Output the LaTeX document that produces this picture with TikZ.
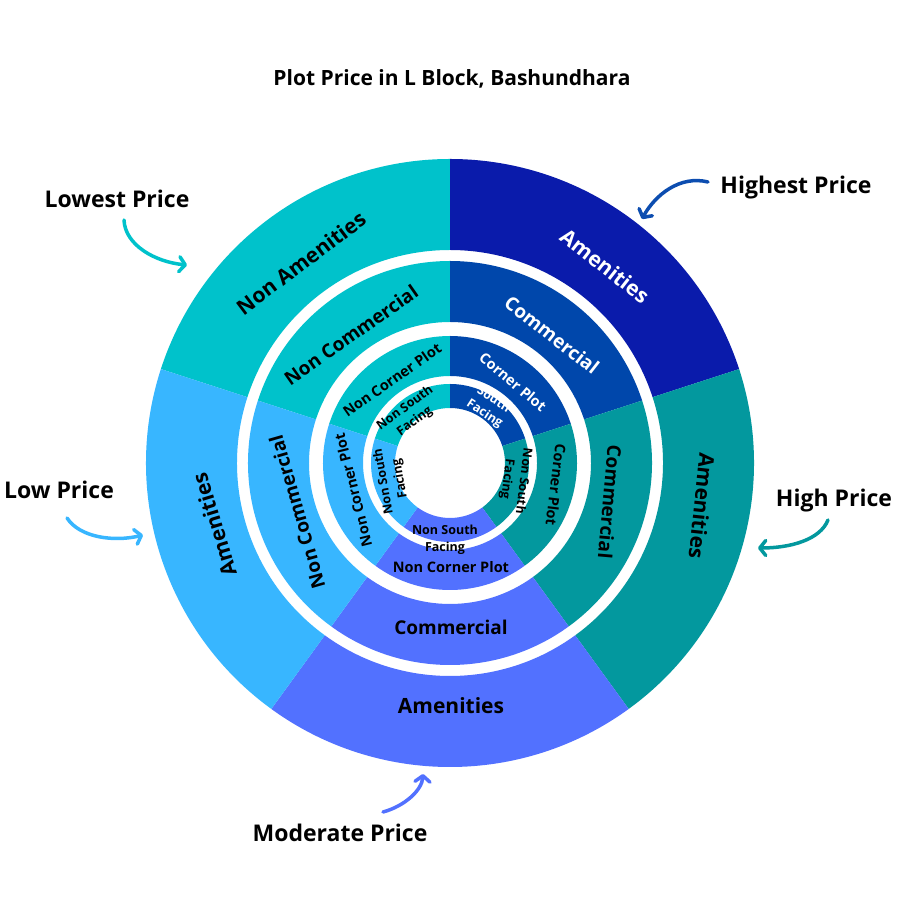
\documentclass[tikz,border=0pt]{standalone}
\usepackage{fontspec}
\setmainfont{Open Sans}
\usetikzlibrary{arrows.meta}
\definecolor{cyanc}{HTML}{00C2CB}
\definecolor{navyc}{HTML}{0A1BAB}
\definecolor{cobaltc}{HTML}{0047AB}
\definecolor{tealc}{HTML}{03989E}
\definecolor{periw}{HTML}{5271FF}
\definecolor{lightb}{HTML}{38B6FF}
\definecolor{arrowblue}{HTML}{0C4DB0}
\newcommand\ringsector[5]{\fill[#1] (#2:#5) arc[start angle=#2, end angle=#3, radius=#5] -- (#3:#4) arc[start angle=#3, end angle=#2, radius=#4] -- cycle;}
\begin{document}
\begin{tikzpicture}[x=1pt,y=1pt,
  ringa/.style={font=\bfseries\fontsize{21}{25}\selectfont, inner sep=0pt},
  ringb/.style={font=\bfseries\fontsize{19}{23}\selectfont, inner sep=0pt},
  ringc/.style={font=\bfseries\fontsize{14.5}{17}\selectfont, inner sep=0pt},
  ringd/.style={font=\bfseries\fontsize{12.5}{16.5}\selectfont, inner sep=0pt, align=center},
  callout/.style={font=\bfseries\fontsize{23}{27}\selectfont, inner sep=0pt, anchor=base},
  titlestyle/.style={font=\bfseries\fontsize{21}{25}\selectfont, inner sep=0pt, anchor=base},
  pointer/.style={line width=3.5pt, line cap=round, -{Straight Barb[length=6pt,width=15pt,round]}}]
\fill[white] (0,0) rectangle (900,900);
\begin{scope}[shift={(450,437)}]
  % ring 1
  \ringsector{cyanc}{90}{162}{213}{304}
  \ringsector{navyc}{18}{90}{213}{304}
  \ringsector{tealc}{-54}{18}{213}{304}
  \ringsector{periw}{-126}{-54}{213}{304}
  \ringsector{lightb}{162}{234}{213}{304}
  % ring 2
  \ringsector{cyanc}{90}{162}{141}{202}
  \ringsector{cobaltc}{18}{90}{141}{202}
  \ringsector{tealc}{-54}{18}{141}{202}
  \ringsector{periw}{-126}{-54}{141}{202}
  \ringsector{lightb}{162}{234}{141}{202}
  % ring 3
  \ringsector{cyanc}{90}{162}{87}{127}
  \ringsector{cobaltc}{18}{90}{87}{127}
  \ringsector{tealc}{-54}{18}{87}{127}
  \ringsector{periw}{-126}{-54}{87}{127}
  \ringsector{lightb}{162}{234}{87}{127}
  % ring 4
  \ringsector{cyanc}{90}{162}{55}{79}
  \ringsector{cobaltc}{18}{90}{55}{79}
  \ringsector{tealc}{-54}{18}{55}{79}
  \ringsector{periw}{-126}{-54}{55}{79}
  \ringsector{lightb}{162}{234}{55}{79}
\end{scope}
% ring 1 labels
\node[ringa, rotate=37] (a1) at (301,637) {Non Amenities};
\node[ringa, rotate=-38, text=white] (a2) at (605,634) {Amenities};
\node[ringa, rotate=-96] (a3) at (702,394) {Amenities};
\node[ringa] (a4) at (451,194) {Amenities};
\node[ringa, rotate=107] (a5) at (214,375) {Amenities};
% ring 2 labels
\node[ringb, rotate=35] (b1) at (351,565) {Non Commercial};
\node[ringb, rotate=-38, text=white] (b2) at (552,565) {Commercial};
\node[ringb, rotate=-95] (b3) at (610,398) {Commercial};
\node[ringb] (b4) at (451,273) {Commercial};
\node[ringb, rotate=106] (b5) at (297,388) {Non Commercial};
% ring 3 labels
\node[ringc, rotate=35] (c1) at (392,520) {Non Corner Plot};
\node[ringc, rotate=-40, text=white] (c2) at (513,518) {Corner Plot};
\node[ringc, rotate=-97] (c3) at (556,415) {Corner Plot};
\node[ringc] (c4) at (451,333) {Non Corner Plot};
\node[ringc, rotate=104] (c5) at (353,410) {Non Corner Plot};
% ring 4 labels
\node[ringd, rotate=36] (d1) at (410,485) {Non South\\Facing};
\node[ringd, rotate=-33, text=white] (d2) at (489,493) {South\\Facing};
\node[ringd, rotate=-97] (d3) at (515,420) {Non South\\Facing};
\node[ringd] (d4) at (445,360) {Non South\\Facing};
\node[ringd, rotate=100] (d5) at (392,420) {Non South\\Facing};
% title and callouts
\node[titlestyle] (title) at (452,814) {Plot Price in L Block, Bashundhara};
\node[callout] (lowest) at (117,692) {Lowest Price};
\node[callout] (highest) at (796,706) {Highest Price};
\node[callout] (low) at (59,401) {Low Price};
\node[callout] (high) at (834,393) {High Price};
\node[callout] (moderate) at (340,58) {Moderate Price};
% pointer coordinates
\coordinate (hs) at (708,718); \coordinate (ht) at (642,681);
\coordinate (ls) at (124,680); \coordinate (lt) at (187,635);
\coordinate (lws) at (67,382); \coordinate (lwt) at (143,365);
\coordinate (hgs) at (828,380); \coordinate (hgt) at (758,352);
\coordinate (ms) at (383,88); \coordinate (mt) at (423,126);
\draw[pointer, arrowblue] (hs) .. controls (680,725) and (655,705) .. (ht);
\draw[pointer, cyanc] (ls) .. controls (125,655) and (155,638) .. (lt);
\draw[pointer, lightb] (lws) .. controls (80,362) and (115,358) .. (lwt);
\draw[pointer, tealc] (hgs) .. controls (820,360) and (790,352) .. (hgt);
\draw[pointer, periw] (ms) .. controls (405,94) and (422,110) .. (mt);
\end{tikzpicture}
\end{document}
